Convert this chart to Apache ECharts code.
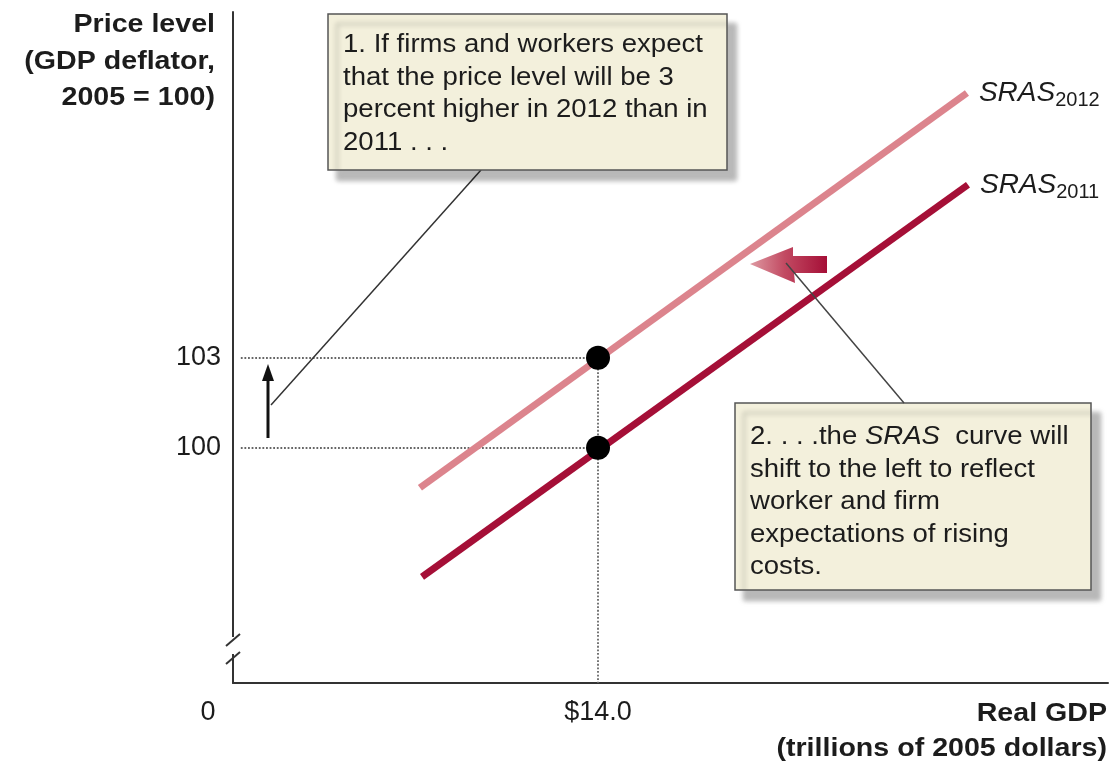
<!DOCTYPE html>
<html>
<head>
<meta charset="utf-8">
<script src="https://cdn.jsdelivr.net/npm/echarts@6/dist/echarts.min.js"></script>
<style>
  html, body { margin: 0; padding: 0; background: #fff; }
  #chart { width: 1115px; height: 763px; }
</style>
</head>
<body>
<div id="chart"></div>
<script>
// data
const sras2012 = [[7.17, 98.67], [28.15, 111.83]]
const sras2011 = [[7.25, 95.7], [28.19, 108.77]]
const equilibrium = [[14, 103], [14, 100]]
const yTicks = [100, 103]
const xTicks = [14]
const curveNames = ['2012', '2011']

const FONT = '"Liberation Sans", Arial, Helvetica, sans-serif'
const PINK = '#dc848d'
const CRIMSON = '#a50f37'
const BOX_FILL = '#f3f0dc'
const INK = '#1c1c1c'

const yMin = 92.16, yMax = 114.53
const xMin = 0, xMax = 33.56

const chart = echarts.init(document.getElementById('chart'))

const endLabel = (sub) => ({
  show: true,
  distance: 12,
  formatter: '{i|SRAS}{s|' + sub + '}',
  rich: {
    i: { fontStyle: 'italic', fontSize: 28, color: INK, fontFamily: FONT },
    s: { fontSize: 20, color: INK, fontFamily: FONT, padding: [15, 0, 0, 0] }
  }
})

const boxShadow = { shadowColor: 'rgba(0,0,0,0.28)', shadowBlur: 5, shadowOffsetX: 9, shadowOffsetY: 10 }

chart.setOption({
  animation: false,
  textStyle: { fontFamily: FONT },
  grid: { left: 233, right: 7, top: 12, bottom: 80 },
  xAxis: {
    type: 'value', min: xMin, max: xMax,
    axisLine: { show: true, lineStyle: { color: '#333', width: 2 } },
    axisTick: { show: false },
    splitLine: { show: false },
    axisLabel: { customValues: xTicks, formatter: v => '$' + v.toFixed(1), fontSize: 27, color: INK, margin: 16 }
  },
  yAxis: {
    type: 'value', min: yMin, max: yMax,
    axisLine: { show: true, lineStyle: { color: '#333', width: 2 } },
    axisTick: { show: false },
    splitLine: { show: false },
    axisLabel: { customValues: yTicks, fontSize: 27, color: INK, margin: 12 }
  },
  series: [
    {
      name: 'SRAS2012', type: 'line', data: sras2012, showSymbol: false, z: 3,
      lineStyle: { color: PINK, width: 7 }, endLabel: endLabel(curveNames[0])
    },
    {
      name: 'SRAS2011', type: 'line', data: sras2011, showSymbol: false, z: 3,
      lineStyle: { color: CRIMSON, width: 7 }, endLabel: endLabel(curveNames[1])
    },
    {
      name: 'equilibrium', type: 'scatter', data: equilibrium, symbolSize: 24, z: 6,
      itemStyle: { color: '#000', opacity: 1 },
      markLine: {
        silent: true, symbol: ['none', 'none'], z: 2,
        label: { show: false },
        lineStyle: { type: 'dotted', color: '#666', width: 1.8 },
        data: [
          [{ coord: [0.3, equilibrium[0][1]] }, { coord: equilibrium[0] }],
          [{ coord: [0.3, equilibrium[1][1]] }, { coord: equilibrium[1] }],
          [{ coord: equilibrium[0] }, { coord: [equilibrium[0][0], yMin] }]
        ]
      }
    }
  ],
  graphic: [
    // axis titles
    {
      type: 'text', x: 215, y: 7, scaleX: 1.1, z: 10,
      style: { text: 'Price level\n(GDP deflator,\n2005 = 100)', fontSize: 26, fontWeight: 'bold', fontFamily: FONT, fill: INK, textAlign: 'right', textVerticalAlign: 'top', lineHeight: 36.5 }
    },
    {
      type: 'text', x: 1107, y: 696, scaleX: 1.1, z: 10,
      style: { text: 'Real GDP\n(trillions of 2005 dollars)', fontSize: 26, fontWeight: 'bold', fontFamily: FONT, fill: INK, textAlign: 'right', textVerticalAlign: 'top', lineHeight: 35 }
    },
    {
      type: 'text', x: 208, y: 713, z: 10,
      style: { text: '0', fontSize: 27, fontFamily: FONT, fill: INK, textAlign: 'center', textVerticalAlign: 'middle' }
    },
    // y-axis break
    { type: 'rect', z: 10, shape: { x: 226, y: 637, width: 14, height: 17 }, style: { fill: '#fff' } },
    { type: 'line', z: 11, shape: { x1: 226, y1: 646, x2: 240, y2: 634 }, style: { stroke: '#333', lineWidth: 2 } },
    { type: 'line', z: 11, shape: { x1: 226, y1: 664, x2: 240, y2: 652 }, style: { stroke: '#333', lineWidth: 2 } },
    // small up arrow
    { type: 'line', z: 10, shape: { x1: 268, y1: 438, x2: 268, y2: 378 }, style: { stroke: '#111', lineWidth: 3 } },
    { type: 'polygon', z: 10, shape: { points: [[262, 381], [274, 381], [268, 364]] }, style: { fill: '#111' } },
    // leader 1
    { type: 'line', z: 9, shape: { x1: 481, y1: 170, x2: 271, y2: 405 }, style: { stroke: '#333', lineWidth: 1.5 } },
    // box 1
    { type: 'rect', z: 10, shape: { x: 328, y: 14, width: 399, height: 156 }, style: Object.assign({ fill: BOX_FILL, stroke: '#555', lineWidth: 1.5 }, boxShadow) },
    {
      type: 'text', x: 343, y: 29, scaleX: 1.06, z: 11,
      style: { text: '1. If firms and workers expect\nthat the price level will be 3\npercent higher in 2012 than in\n2011 . . .', fontSize: 26, fontFamily: FONT, fill: INK, textAlign: 'left', textVerticalAlign: 'top', lineHeight: 32.5 }
    },
    // shift arrow
    {
      type: 'polygon', z: 10,
      shape: { points: [[750, 264], [793, 247], [793, 256], [827, 256], [827, 273], [794, 273], [795, 283]] },
      style: {
        fill: new echarts.graphic.LinearGradient(0, 0, 1, 0, [
          { offset: 0, color: '#de9aa2' },
          { offset: 0.45, color: '#c24a62' },
          { offset: 1, color: '#a50f37' }
        ])
      }
    },
    // leader 2
    { type: 'line', z: 12, shape: { x1: 786, y1: 263, x2: 904, y2: 403 }, style: { stroke: '#444', lineWidth: 1.5 } },
    // box 2
    { type: 'rect', z: 10, shape: { x: 735, y: 403, width: 356, height: 187 }, style: Object.assign({ fill: BOX_FILL, stroke: '#555', lineWidth: 1.5 }, boxShadow) },
    {
      type: 'text', x: 750, y: 421, scaleX: 1.06, z: 11,
      style: {
        text: '2. . . .the {i|SRAS}  curve will\nshift to the left to reflect\nworker and firm\nexpectations of rising\ncosts.',
        fontSize: 26, fontFamily: FONT, fill: INK, textAlign: 'left', textVerticalAlign: 'top', lineHeight: 32.5,
        rich: { i: { fontStyle: 'italic', fontSize: 26, fontFamily: FONT, fill: INK, lineHeight: 32.5 } }
      }
    }
  ]
})
</script>
</body>
</html>
